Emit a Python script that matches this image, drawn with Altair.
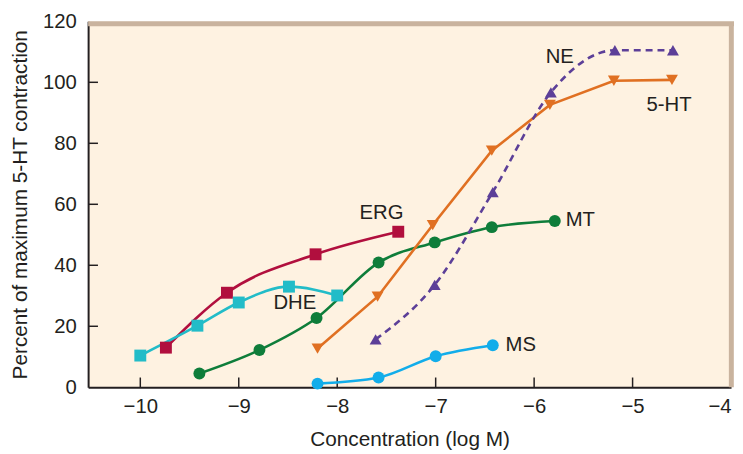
import altair as alt
import pandas as pd

# ---- data ----
erg_x = [-9.74, -9.12, -8.22, -7.38]
erg_y = [13.0, 31.0, 43.6, 51.0]
dhe_x = [-10.0, -9.42, -9.0, -8.49, -8.0]
dhe_y = [10.4, 20.2, 27.8, 33.0, 30.1]
mt_x = [-9.40, -8.79, -8.21, -7.58, -7.01, -6.43, -5.79]
mt_y = [4.5, 12.2, 22.7, 40.9, 47.5, 52.5, 54.5]
ms_x = [-8.20, -7.58, -7.00, -6.42]
ms_y = [1.2, 3.2, 10.2, 13.8]
ht_x = [-8.20, -7.59, -7.03, -6.43, -5.84, -5.19, -4.60]
ht_y = [12.7, 29.7, 53.2, 77.6, 92.6, 100.5, 100.8]
ne_x = [-7.61, -7.01, -6.42, -5.83, -5.18, -4.59]
ne_y = [15.7, 33.6, 64.0, 96.7, 110.5, 110.5]

series_names = ["ERG", "DHE", "MT", "MS", "5-HT", "NE"]
series_colors = ["#B10F3E", "#22BCC8", "#0E7D3A", "#12ADEA", "#E07022", "#5C3F98"]
series_shapes = ["square", "square", "circle", "circle", "triangle-down", "triangle-up"]
dashed_series = ["NE"]
linear_series = ["5-HT"]

label_text = ["ERG", "DHE", "MT", "MS", "5-HT", "NE"]
label_x = [-7.55, -8.43, -5.68, -6.29, -4.63, -5.74]
label_y = [57.2, 27.6, 54.8, 14.0, 92.4, 108.3]
label_align = ["center", "center", "left", "left", "center", "center"]

x_ticks = [-10, -9, -8, -7, -6, -5, -4]
y_ticks = [0, 20, 40, 60, 80, 100, 120]
x_domain = [-10.53, -4]
y_domain = [0, 120]

FONT = "Liberation Sans"
TEXT_COLOR = "#231F20"
BORDER = "#C9B39E"

# ---- tables ----
rows = []
for name, xs_, ys_ in zip(series_names,
                          [erg_x, dhe_x, mt_x, ms_x, ht_x, ne_x],
                          [erg_y, dhe_y, mt_y, ms_y, ht_y, ne_y]):
    for i, (xv, yv) in enumerate(zip(xs_, ys_)):
        rows.append({"series": name, "x": xv, "y": yv, "order": i,
                     "dashed": name in dashed_series,
                     "linear": name in linear_series})
df = pd.DataFrame(rows)

labels = pd.DataFrame({"text": label_text, "x": label_x, "y": label_y, "align": label_align})
xt = pd.DataFrame({"x": x_ticks[:-1], "y": [0.0] * (len(x_ticks) - 1), "y2": [3.2] * (len(x_ticks) - 1)})
yt = pd.DataFrame({"y": y_ticks[1:-1], "x": [x_domain[0]] * (len(y_ticks) - 2),
                   "x2": [x_domain[0] + 0.1] * (len(y_ticks) - 2)})
top_b = pd.DataFrame({"x": [x_domain[0]], "x2": [x_domain[1] + 0.03], "y": [y_domain[1] - 0.8]})
right_b = pd.DataFrame({"x": [x_domain[1] + 0.003], "y": [y_domain[0]], "y2": [y_domain[1] - 0.8]})

xs = alt.Scale(domain=x_domain, nice=False, zero=False)
ys = alt.Scale(domain=y_domain, nice=False, zero=False)
color = alt.Color("series:N", scale=alt.Scale(domain=series_names, range=series_colors), legend=None)

X = alt.X("x:Q", scale=xs, title="Concentration (log M)", axis=alt.Axis(values=x_ticks, format="d"))
Y = alt.Y("y:Q", scale=ys, title="Percent of maximum 5-HT contraction", axis=alt.Axis(values=y_ticks))

smooth = alt.Chart(df).transform_filter("!datum.dashed && !datum.linear").mark_line(
    interpolate="monotone", strokeWidth=2.6).encode(x=X, y=Y, color=color, order="order:Q")
straight = alt.Chart(df).transform_filter("datum.linear").mark_line(
    interpolate="linear", strokeWidth=2.6).encode(x=X, y=Y, color=color, order="order:Q")
dashed = alt.Chart(df).transform_filter("datum.dashed").mark_line(
    interpolate="monotone", strokeWidth=2.6, strokeDash=[7, 5]).encode(x=X, y=Y, color=color, order="order:Q")

points = alt.Chart(df).mark_point(filled=True, opacity=1, size=145).encode(
    x=X, y=Y, color=color,
    shape=alt.Shape("series:N", scale=alt.Scale(domain=series_names, range=series_shapes), legend=None),
)

texts_c = alt.Chart(labels).transform_filter("datum.align == 'center'").mark_text(
    fontSize=20.5, font=FONT, color=TEXT_COLOR, align="center", baseline="middle"
).encode(x=X, y=Y, text="text:N")
texts_l = alt.Chart(labels).transform_filter("datum.align == 'left'").mark_text(
    fontSize=20.5, font=FONT, color=TEXT_COLOR, align="left", baseline="middle"
).encode(x=X, y=Y, text="text:N")

border_top = alt.Chart(top_b).mark_rule(color=BORDER, strokeWidth=5).encode(x=X, x2="x2:Q", y=Y)
border_right = alt.Chart(right_b).mark_rule(color=BORDER, strokeWidth=5).encode(x=X, y=Y, y2="y2:Q")
xtick_rules = alt.Chart(xt).mark_rule(color=TEXT_COLOR, strokeWidth=1.5).encode(x=X, y=Y, y2="y2:Q")
ytick_rules = alt.Chart(yt).mark_rule(color=TEXT_COLOR, strokeWidth=1.5).encode(y=Y, x=X, x2="x2:Q")

chart = alt.layer(border_top, border_right, xtick_rules, ytick_rules, smooth, straight, dashed, points,
                  texts_c, texts_l).properties(
    width=650, height=370,
    autosize=alt.AutoSizeParams(type="none"),
    padding={"left": 81, "top": 11, "right": 4, "bottom": 65},
).configure_view(fill="#FEF2E1", stroke="transparent").configure_axis(
    grid=False, ticks=False, tickSize=0, domainColor=TEXT_COLOR, domainWidth=2,
    labelFont=FONT, labelFontSize=20.5, labelColor=TEXT_COLOR,
    titleFont=FONT, titleFontSize=21, titleColor=TEXT_COLOR, titleFontWeight="normal",
).configure_axisX(labelPadding=10, titlePadding=11).configure_axisY(labelPadding=12, titlePadding=12)

chart.save("out.html", embed_options={"renderer": "svg", "actions": False})
